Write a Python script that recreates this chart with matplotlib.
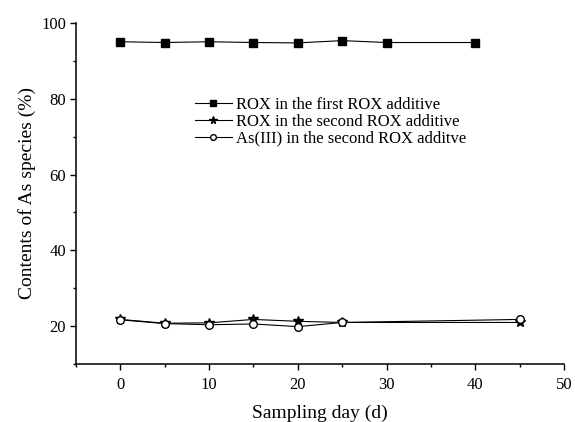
import numpy as np
import matplotlib
matplotlib.use("Agg")
import matplotlib.pyplot as plt
from matplotlib.ticker import MultipleLocator

plt.rcParams["font.family"] = ["Liberation Serif", "DejaVu Serif"]

# data
days_first = [0, 5, 10, 15, 20, 25, 30, 40]
rox_first = [95.0, 94.8, 95.0, 94.8, 94.7, 95.3, 94.8, 94.8]

days_second = [0, 5, 10, 15, 20, 25, 45]
rox_second = [21.8, 20.8, 20.9, 21.8, 21.3, 21.0, 21.0]
as3_second = [21.7, 20.7, 20.4, 20.6, 19.9, 21.0, 21.8]

labels = ["ROX in the first ROX additive",
          "ROX in the second ROX additive",
          "As(III) in the second ROX additve"]

fig = plt.figure(figsize=(5.75, 4.22), dpi=100)
ax = fig.add_axes([0.132, 0.137, 0.849, 0.809])

ax.plot(days_first, rox_first, color="black", lw=0.8, marker="s",
        markersize=5.5, label=labels[0])
ax.plot(days_second, rox_second, color="black", lw=0.8, marker="*",
        markersize=7.5, label=labels[1])
ax.plot(days_second, as3_second, color="black", lw=0.8, marker="o",
        markersize=5.5, markerfacecolor="white", label=labels[2])

ax.set_xlim(-5, 50)
ax.set_ylim(10, 100)
ax.xaxis.set_major_locator(MultipleLocator(10))
ax.xaxis.set_minor_locator(MultipleLocator(5))
ax.yaxis.set_major_locator(MultipleLocator(20))
ax.yaxis.set_minor_locator(MultipleLocator(10))
ax.tick_params(which="major", direction="out", length=4, width=1,
               labelsize=12, pad=3)
ax.tick_params(axis="x", which="major", pad=5)
ax.tick_params(which="minor", direction="out", length=2.5, width=1)

ax.spines["top"].set_visible(False)
ax.spines["right"].set_visible(False)
for s in ["left", "bottom"]:
    ax.spines[s].set_linewidth(1.1)

ax.set_xlabel("Sampling day (d)", fontsize=14, labelpad=9)
ax.set_ylabel("Contents of As species (%)", fontsize=14, labelpad=4)

leg = ax.legend(loc="upper left", bbox_to_anchor=(0.244, 0.782),
                frameon=False, fontsize=12, handlelength=2.2,
                handletextpad=0.25, borderpad=0, borderaxespad=0,
                labelspacing=0.05, markerscale=0.75)

fig.savefig("out.png", dpi=100)
